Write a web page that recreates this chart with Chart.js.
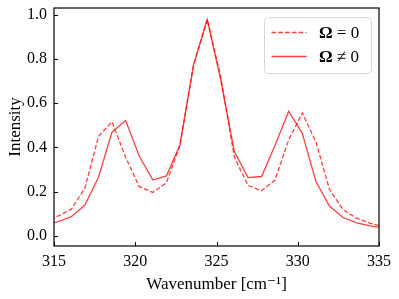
<!DOCTYPE html>
<html>
<head>
<meta charset="utf-8">
<script src="https://cdn.jsdelivr.net/npm/chart.js@4"></script>
<style>
  html, body { margin: 0; padding: 0; background: #fff; }
  #wrap { width: 399px; height: 299px; }
</style>
</head>
<body>
<div id="wrap"><canvas id="c" width="399" height="299"></canvas></div>
<script>
// data
let wavenumber = [314.39, 315.23, 316.07, 316.90, 317.74, 318.57, 319.41, 320.25, 321.08, 321.92,
                  322.75, 323.59, 324.43, 325.26, 326.10, 326.94, 327.77, 328.61, 329.44, 330.28,
                  331.12, 331.95, 332.79, 333.62, 334.46, 335.30];
let omegaZero = [0.062, 0.088, 0.120, 0.215, 0.450, 0.516, 0.355, 0.222, 0.196, 0.240,
                 0.410, 0.775, 0.980, 0.720, 0.355, 0.228, 0.203, 0.253, 0.434, 0.556,
                 0.425, 0.210, 0.117, 0.079, 0.056, 0.040];
let omegaNonZero = [0.045, 0.063, 0.086, 0.139, 0.265, 0.469, 0.522, 0.360, 0.252, 0.271,
                    0.411, 0.774, 0.980, 0.706, 0.381, 0.263, 0.268, 0.411, 0.564, 0.464,
                    0.245, 0.134, 0.082, 0.058, 0.044, 0.034];
let seriesNames = ['\u03A9 = 0', '\u03A9 \u2260 0'];
let xTicks = [315, 320, 325, 330, 335];
let yTicks = [0.0, 0.2, 0.4, 0.6, 0.8, 1.0];

const red = 'rgba(255, 0, 0, 0.75)';
const serif = "'Liberation Serif', 'DejaVu Serif', serif";

function toPoints(ys) {
    return wavenumber.map((x, i) => ({x: x, y: ys[i]}));
}

// frame, inward ticks and legend box
const framePlugin = {
    id: 'frame',
    afterDraw(chart) {
        const ctx = chart.ctx;
        const a = chart.chartArea;
        const xs = chart.scales.x;
        const ys = chart.scales.y;
        ctx.save();
        ctx.strokeStyle = '#000';
        ctx.lineWidth = 1.2;
        ctx.strokeRect(a.left, a.top, a.right - a.left, a.bottom - a.top);
        ctx.lineWidth = 1;
        ctx.beginPath();
        xTicks.forEach(v => {
            const px = Math.round(xs.getPixelForValue(v)) + 0.5;
            ctx.moveTo(px, a.bottom);
            ctx.lineTo(px, a.bottom - 4);
        });
        yTicks.forEach(v => {
            const py = Math.round(ys.getPixelForValue(v)) + 0.5;
            ctx.moveTo(a.left, py);
            ctx.lineTo(a.left + 4, py);
        });
        ctx.stroke();

        // legend
        const bx = a.right - 115, by = a.top + 9, bw = 107, bh = 56;
        ctx.fillStyle = 'rgba(255,255,255,0.8)';
        ctx.strokeStyle = '#d6d6d6';
        ctx.lineWidth = 1;
        ctx.beginPath();
        ctx.roundRect(bx + 0.5, by + 0.5, bw, bh, 4);
        ctx.fill();
        ctx.stroke();
        chart.data.datasets.forEach((ds, i) => {
            const ly = by + 15.5 + i * 24;
            ctx.strokeStyle = ds.borderColor;
            ctx.lineWidth = ds.borderWidth;
            ctx.setLineDash(ds.borderDash || []);
            ctx.beginPath();
            ctx.moveTo(bx + 7.5, ly);
            ctx.lineTo(bx + 42.5, ly);
            ctx.stroke();
            ctx.setLineDash([]);
            ctx.fillStyle = '#000';
            ctx.textBaseline = 'middle';
            ctx.textAlign = 'left';
            const label = ds.label;
            ctx.font = 'bold 17px ' + serif;
            ctx.fillText(label.charAt(0), bx + 55, ly + 1);
            const w = ctx.measureText(label.charAt(0)).width;
            ctx.font = '17px ' + serif;
            ctx.fillText(label.slice(1), bx + 55 + w, ly + 1);
        });
        ctx.restore();
    }
};

const chart = new Chart(document.getElementById('c'), {
    type: 'line',
    data: {
        datasets: [{
            label: seriesNames[0],
            data: toPoints(omegaZero),
            borderColor: red,
            borderWidth: 1.3,
            borderDash: [4.6, 2.2],
            pointRadius: 0,
            tension: 0,
            clip: 0
        }, {
            label: seriesNames[1],
            data: toPoints(omegaNonZero),
            borderColor: red,
            borderWidth: 1.3,
            pointRadius: 0,
            tension: 0,
            clip: 0
        }]
    },
    options: {
        responsive: false,
        animation: false,
        layout: { padding: { top: 8, right: 20, left: 0, bottom: 0 } },
        plugins: {
            legend: { display: false },
            tooltip: { enabled: false }
        },
        scales: {
            x: {
                type: 'linear',
                min: 315,
                max: 335,
                afterBuildTicks: s => { s.ticks = xTicks.map(v => ({value: v})); },
                afterFit: s => { s.height = 53; s.paddingLeft = 0; s.paddingRight = 0; },
                grid: { display: false, drawTicks: false },
                border: { display: false },
                ticks: {
                    color: '#000',
                    font: { family: serif, size: 16 },
                    padding: 6,
                    maxRotation: 0,
                    callback: v => String(v)
                },
                title: {
                    display: true,
                    text: 'Wavenumber [cm\u207B\u00B9]',
                    color: '#000',
                    font: { family: serif, size: 17 },
                    padding: { top: 2, bottom: 4 }
                }
            },
            y: {
                type: 'linear',
                min: -0.047,
                max: 1.032,
                afterBuildTicks: s => { s.ticks = yTicks.map(v => ({value: v})); },
                afterFit: s => { s.width = 54; s.paddingTop = 0; s.paddingBottom = 0; },
                grid: { display: false, drawTicks: false },
                border: { display: false },
                ticks: {
                    color: '#000',
                    font: { family: serif, size: 16 },
                    padding: 7,
                    callback: v => v.toFixed(1)
                },
                title: {
                    display: true,
                    text: 'Intensity',
                    color: '#000',
                    font: { family: serif, size: 17 },
                    padding: { top: 5, bottom: 0 }
                }
            }
        }
    },
    plugins: [framePlugin]
});
</script>
</body>
</html>
